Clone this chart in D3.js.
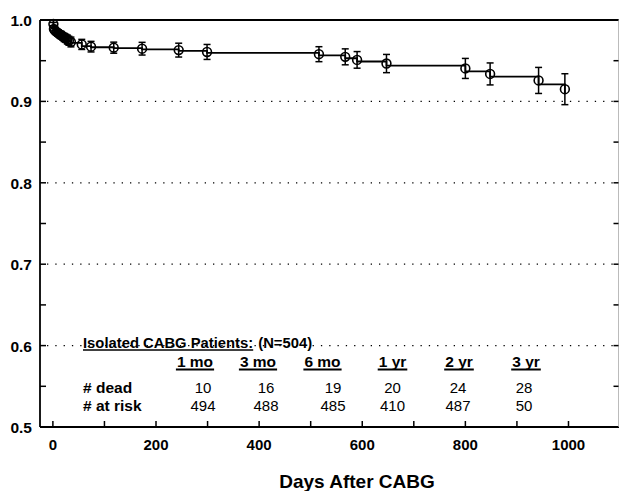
<!DOCTYPE html>
<html lang="en">
  <head>
    <meta charset="utf-8" />
    <title>Isolated CABG survival</title>
    <style>
      body { margin: 0; background: #fff; }
      text { font-family: "Liberation Sans", Arial, sans-serif; fill: #000; }
    </style>
  </head>
  <body>
    <script src="https://d3js.org/d3.v7.min.js"></script>
    <div id="chart"></div>

    <script>
      // survival curve: event times (days), level after each step, half width of the bars
      const days = [1, 2, 4, 7, 10, 13, 16, 19, 22, 25, 28, 31, 35, 56, 74, 118, 173, 244, 299, 516, 567, 590, 647, 800, 848, 942, 993];
      const survival = [0.990, 0.988, 0.986, 0.985, 0.983, 0.982, 0.981, 0.979, 0.978, 0.977, 0.975, 0.974, 0.972,
        0.968, 0.9665, 0.9655, 0.964, 0.962, 0.9595, 0.9565, 0.953, 0.949, 0.944, 0.937, 0.9305, 0.921, 0.909];
      const ciHalf = [0.002, 0.0025, 0.003, 0.0035, 0.004, 0.004, 0.0045, 0.0045, 0.005, 0.005, 0.0055, 0.0055, 0.006,
        0.0062, 0.0065, 0.0068, 0.0078, 0.0085, 0.0092, 0.0092, 0.0098, 0.0102, 0.0112, 0.0123, 0.0135, 0.016, 0.019];

      // table in the lower part of the plot
      const periods = ["1 mo", "3 mo", "6 mo", "1 yr", "2 yr", "3 yr"];
      const dead = [10, 16, 19, 20, 24, 28];
      const atRisk = [494, 488, 485, 410, 487, 50];

      const yTicks = [0.5, 0.6, 0.7, 0.8, 0.9, 1.0];
      const yMinor = [0.55, 0.65, 0.75, 0.85, 0.95];
      const xTicks = [0, 200, 400, 600, 800, 1000];
      const xMinor = [100, 300, 500, 700, 900];

      const W = 619, H = 491;
      const pLeft = 40, pRight = 618.5, pTop = 20, pBottom = 427;

      const svg = d3.select("#chart").append("svg")
        .attr("width", W).attr("height", H);

      const x = d3.scaleLinear().domain([-25, 1097]).range([pLeft, pRight]);
      const y = d3.scaleLinear().domain([0.5, 1.0]).range([pBottom, pTop]);

      // dotted grid lines
      svg.append("g").selectAll("line")
        .data(yTicks.filter(d => d > 0.5 && d < 1))
        .join("line")
        .attr("x1", pLeft + 7).attr("x2", pRight)
        .attr("y1", d => y(d)).attr("y2", d => y(d))
        .attr("stroke", "#000").attr("stroke-width", 1.3)
        .attr("stroke-dasharray", "1.3,7");

      // frame
      const frame = svg.append("g").attr("stroke", "#000").attr("fill", "none");
      frame.append("line").attr("x1", pLeft).attr("x2", pRight).attr("y1", pTop).attr("y2", pTop).attr("stroke-width", 2);
      frame.append("line").attr("x1", pLeft).attr("x2", pLeft).attr("y1", pTop).attr("y2", pBottom).attr("stroke-width", 1.8);
      frame.append("line").attr("x1", pLeft).attr("x2", pRight + 1).attr("y1", pBottom).attr("y2", pBottom).attr("stroke-width", 1.8);
      frame.append("line").attr("x1", pRight).attr("x2", pRight).attr("y1", pTop).attr("y2", pBottom)
        .attr("stroke-width", 1).attr("stroke", "#bbb");

      // y ticks on both sides, pointing inwards
      const allY = yTicks.concat(yMinor);
      frame.selectAll(".ytl").data(allY).join("line")
        .attr("x1", pLeft).attr("x2", pLeft + 6)
        .attr("y1", d => y(d)).attr("y2", d => y(d)).attr("stroke-width", 1.5);
      frame.selectAll(".ytr").data(allY).join("line")
        .attr("x1", pRight - 5).attr("x2", pRight)
        .attr("y1", d => y(d)).attr("y2", d => y(d)).attr("stroke-width", 1.5);

      // x ticks pointing up
      frame.selectAll(".xt").data(xTicks.concat(xMinor)).join("line")
        .attr("x1", d => x(d)).attr("x2", d => x(d))
        .attr("y1", pBottom).attr("y2", pBottom - 6).attr("stroke-width", 1.5);

      svg.append("g").selectAll("text").data(yTicks).join("text")
        .attr("x", 32).attr("y", d => y(d) + 6)
        .attr("text-anchor", "end")
        .attr("font-size", 15.5).attr("font-weight", "bold")
        .text(d => d3.format(".1f")(d));

      svg.append("g").selectAll("text").data(xTicks).join("text")
        .attr("x", d => x(d)).attr("y", 450)
        .attr("text-anchor", "middle")
        .attr("font-size", 15).attr("font-weight", "bold")
        .text(d => d);

      svg.append("text")
        .attr("x", 357).attr("y", 487.5)
        .attr("text-anchor", "middle")
        .attr("font-size", 19).attr("font-weight", "bold")
        .text("Days After CABG");

      // step curve
      const pts = [[0, 1.0]];
      days.forEach((d, i) => {
        pts.push([d, i === 0 ? 1.0 : survival[i - 1]]);
        pts.push([d, survival[i]]);
      });
      svg.append("path")
        .attr("d", d3.line().x(p => x(p[0])).y(p => y(p[1]))(pts))
        .attr("fill", "none").attr("stroke", "#000").attr("stroke-width", 1.8);

      // markers sit halfway down each step
      const marks = days.map((d, i) => ({
        t: d,
        s: ((i === 0 ? 1.0 : survival[i - 1]) + survival[i]) / 2,
        e: ciHalf[i]
      }));

      const g = svg.append("g").attr("stroke", "#000").attr("fill", "none").attr("stroke-width", 1.5);
      g.selectAll(".bar").data(marks).join("line")
        .attr("x1", d => x(d.t)).attr("x2", d => x(d.t))
        .attr("y1", d => y(d.s - d.e)).attr("y2", d => y(d.s + d.e));
      g.selectAll(".capTop").data(marks).join("line")
        .attr("x1", d => x(d.t) - 3.5).attr("x2", d => x(d.t) + 3.5)
        .attr("y1", d => y(d.s + d.e)).attr("y2", d => y(d.s + d.e));
      g.selectAll(".capBot").data(marks).join("line")
        .attr("x1", d => x(d.t) - 3.5).attr("x2", d => x(d.t) + 3.5)
        .attr("y1", d => y(d.s - d.e)).attr("y2", d => y(d.s - d.e));
      g.selectAll("circle").data(marks).join("circle")
        .attr("cx", d => x(d.t)).attr("cy", d => y(d.s))
        .attr("r", 4.4).attr("stroke-width", 1.6);

      // annotation and table
      const tx = 83;
      const head1 = svg.append("text")
        .attr("x", tx).attr("y", 347.5)
        .attr("font-size", 14.8).attr("font-weight", "bold")
        .text("Isolated CABG Patients:");
      const w1 = head1.node().getComputedTextLength();
      svg.append("line")
        .attr("x1", tx).attr("x2", tx + w1)
        .attr("y1", 350).attr("y2", 350)
        .attr("stroke", "#000").attr("stroke-width", 1.6);
      svg.append("text")
        .attr("x", tx + w1 + 5).attr("y", 347.5)
        .attr("font-size", 14.8).attr("font-weight", "bold")
        .text("(N=504)");

      const headX = [195, 258, 322.5, 392.5, 459, 526];
      const numX = [203, 266, 333, 392.5, 458, 524];

      const hdr = svg.append("g").selectAll("g").data(periods).join("g");
      hdr.append("text")
        .attr("x", (d, i) => headX[i]).attr("y", 366.5)
        .attr("text-anchor", "middle")
        .attr("font-size", 15.5).attr("font-weight", "bold")
        .text(d => d);
      hdr.each(function(d, i) {
        const w = d3.select(this).select("text").node().getComputedTextLength();
        d3.select(this).append("line")
          .attr("x1", headX[i] - w / 2 - 1).attr("x2", headX[i] + w / 2 + 1)
          .attr("y1", 369.5).attr("y2", 369.5)
          .attr("stroke", "#000").attr("stroke-width", 2);
      });

      svg.append("text").attr("x", tx).attr("y", 392.5)
        .attr("font-size", 15.5).attr("font-weight", "bold").text("# dead");
      svg.append("text").attr("x", tx).attr("y", 410.5)
        .attr("font-size", 15.5).attr("font-weight", "bold").text("# at risk");

      svg.append("g").selectAll("text").data(dead).join("text")
        .attr("x", (d, i) => numX[i]).attr("y", 392.5)
        .attr("text-anchor", "middle").attr("font-size", 15)
        .text(d => d);
      svg.append("g").selectAll("text").data(atRisk).join("text")
        .attr("x", (d, i) => numX[i]).attr("y", 410.5)
        .attr("text-anchor", "middle").attr("font-size", 15)
        .text(d => d);
    </script>
  </body>
</html>
